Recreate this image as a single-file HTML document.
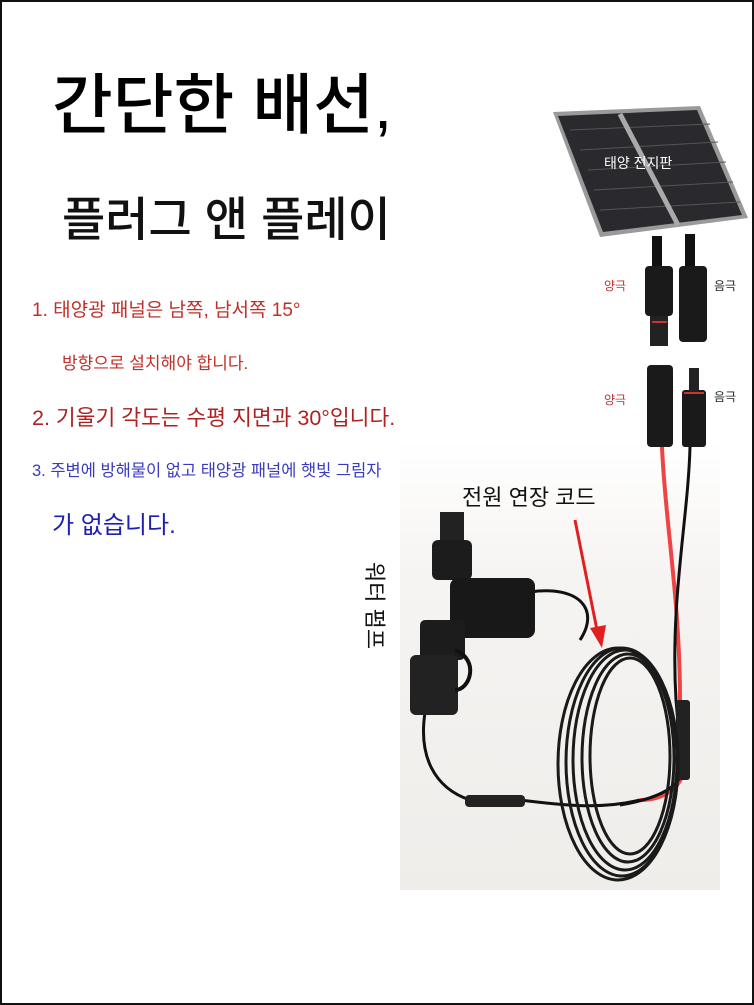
<!DOCTYPE html>
<html><head><meta charset="utf-8"><style>
body{margin:0;width:754px;height:1005px;overflow:hidden;background:#fff;font-family:"Liberation Sans","Noto Sans CJK KR",sans-serif}
.frame{position:absolute;left:0;top:0;width:750px;height:1001px;border:2px solid #111}
.t{position:absolute;white-space:nowrap}
</style></head><body>
<div class="frame"></div>
<svg width="754" height="1005" style="position:absolute;left:0;top:0">
<defs><linearGradient id="bg" x1="0" y1="0" x2="0" y2="1"><stop offset="0" stop-color="#fff"/><stop offset="0.3" stop-color="#f6f4f2"/><stop offset="1" stop-color="#efedea"/></linearGradient></defs>
<rect x="400" y="440" width="320" height="450" fill="url(#bg)"/>
<polygon points="553,112 700,106 748,218 600,237" fill="#9a9a9a"/>
<polygon points="558,116 697,110 742,215 603,232" fill="#2a2a2e"/>
<g stroke="#555" stroke-width="1">
<line x1="570" y1="130" x2="710" y2="124"/><line x1="580" y1="150" x2="718" y2="142"/><line x1="588" y1="170" x2="726" y2="162"/><line x1="594" y1="190" x2="733" y2="182"/><line x1="600" y1="210" x2="740" y2="202"/>
</g>
<line x1="620" y1="114" x2="678" y2="225" stroke="#aaa" stroke-width="5"/>
<rect x="652" y="236" width="10" height="32" fill="#111"/><rect x="685" y="234" width="10" height="34" fill="#111"/>
<rect x="645" y="266" width="28" height="50" rx="4" fill="#1a1a1a"/><rect x="650" y="316" width="18" height="30" fill="#222"/>
<rect x="679" y="266" width="28" height="76" rx="4" fill="#1a1a1a"/>
<rect x="647" y="365" width="26" height="82" rx="4" fill="#1a1a1a"/>
<rect x="682" y="390" width="24" height="57" rx="3" fill="#1a1a1a"/><rect x="689" y="368" width="10" height="24" fill="#222"/>
<line x1="652" y1="322" x2="667" y2="322" stroke="#c33" stroke-width="2"/><line x1="684" y1="393" x2="704" y2="393" stroke="#c33" stroke-width="2"/>
<path d="M662,447 C665,520 680,600 680,700 L684,760 C686,790 660,800 640,800" stroke="#e44" stroke-width="4" fill="none"/>
<path d="M690,447 C688,520 670,600 676,700 L682,770 C680,790 650,800 620,805" stroke="#111" stroke-width="3" fill="none"/>
<rect x="676" y="700" width="14" height="80" rx="3" fill="#222"/>
<path d="M430,690 C410,760 440,790 470,800 L520,800 C560,805 600,810 640,800" stroke="#111" stroke-width="3" fill="none"/>
<rect x="465" y="795" width="60" height="12" rx="4" fill="#222"/>
<path d="M530,592 C580,585 600,610 580,640" stroke="#111" stroke-width="3" fill="none"/>
<g fill="none" stroke="#1a1a1a" stroke-width="3">
<ellipse cx="625" cy="760" rx="52" ry="110"/><ellipse cx="628" cy="758" rx="46" ry="104"/><ellipse cx="622" cy="762" rx="56" ry="114"/><ellipse cx="630" cy="756" rx="40" ry="98"/><ellipse cx="618" cy="764" rx="60" ry="116"/>
</g>
<rect x="440" y="512" width="24" height="30" fill="#222"/>
<rect x="432" y="540" width="40" height="40" rx="6" fill="#1c1c1c"/>
<rect x="450" y="578" width="85" height="60" rx="8" fill="#181818"/>
<rect x="420" y="620" width="45" height="40" rx="5" fill="#1c1c1c"/>
<rect x="410" y="655" width="48" height="60" rx="6" fill="#222"/>
<path d="M455,650 C480,660 470,690 455,690" stroke="#111" stroke-width="4" fill="none"/>
<line x1="575" y1="520" x2="597" y2="630" stroke="#e02020" stroke-width="3"/>
<polygon points="590,628 606,625 602,648" fill="#e02020"/>
</svg>
<div class="t" style="left:52px;top:52px;font-size:66px;font-weight:500;color:#000">간단한 배선,</div>
<div class="t" style="left:62px;top:181px;font-size:47px;font-weight:500;color:#111">플러그 앤 플레이</div>
<div class="t" style="left:32px;top:295px;font-size:19px;color:#c0302a">1. 태양광 패널은 남쪽, 남서쪽 15°</div>
<div class="t" style="left:62px;top:349px;font-size:17px;color:#c0302a">방향으로 설치해야 합니다.</div>
<div class="t" style="left:32px;top:401px;font-size:21.5px;color:#b02020">2. 기울기 각도는 수평 지면과 30°입니다.</div>
<div class="t" style="left:32px;top:457px;font-size:16.5px;color:#3a3ac0">3. 주변에 방해물이 없고 태양광 패널에 햇빛 그림자</div>
<div class="t" style="left:52px;top:505px;font-size:24px;color:#2020b0">가 없습니다.</div>
<div class="t" style="left:604px;top:153px;font-size:14px;color:#fff">태양 전지판</div>
<div class="t" style="left:604px;top:277px;font-size:12px;color:#c03030">양극</div>
<div class="t" style="left:714px;top:277px;font-size:12px;color:#222">음극</div>
<div class="t" style="left:604px;top:391px;font-size:12px;color:#c03030">양극</div>
<div class="t" style="left:714px;top:388px;font-size:12px;color:#222">음극</div>
<div class="t" style="left:462px;top:480px;font-size:22px;color:#111">전원 연장 코드</div>
<div class="t" style="top:562px;font-size:22px;color:#111;transform:rotate(90deg);transform-origin:0 0;left:392px">워터 펌프</div>
</body></html>
